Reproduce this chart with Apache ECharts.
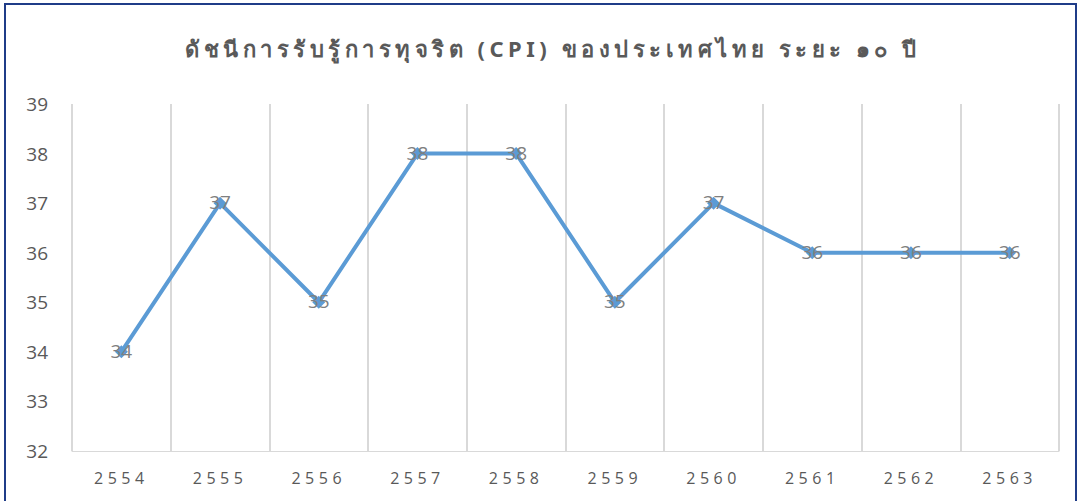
<!DOCTYPE html>
<html>
<head>
<meta charset="utf-8">
<script src="https://cdn.jsdelivr.net/npm/echarts@6/dist/echarts.min.js"></script>
<style>
  html, body { margin: 0; padding: 0; background: #fff; overflow: hidden; }
  #frame {
    position: absolute; left: 4px; top: 3px; width: 1073px; height: 520px;
    border: 2px solid #1f3c88; box-sizing: border-box;
  }
  #chart { position: absolute; left: 0; top: 0; width: 1080px; height: 501px; }
  /* spaced-out title and category labels */
  #chart text[style*="22px"] { letter-spacing: 4.5px; }
  #chart text[style*="16px"] { letter-spacing: 4.5px; }
</style>
</head>
<body>
<div id="frame"></div>
<div id="chart"></div>
<script>
// CPI score of Thailand, 10 years
const years = ['2554', '2555', '2556', '2557', '2558', '2559', '2560', '2561', '2562', '2563'];
const cpiScores = [34, 37, 35, 38, 38, 35, 37, 36, 36, 36];
const chartTitle = 'ดัชนีการรับรู้การทุจริต (CPI) ของประเทศไทย ระยะ ๑๐ ปี';

const chart = echarts.init(document.getElementById('chart'), null, { renderer: 'svg' });

chart.setOption({
  backgroundColor: 'transparent',
  animation: false,
  title: {
    text: chartTitle,
    left: 548,
    textAlign: 'center',
    top: 32,
    textStyle: {
      color: '#595959',
      fontSize: 22,
      fontWeight: 'bold',
      fontFamily: 'Noto Sans, sans-serif'
    }
  },
  grid: { left: 72, right: 21, top: 104, bottom: 50, containLabel: false },
  xAxis: {
    type: 'category',
    data: years,
    boundaryGap: true,
    axisLine: { lineStyle: { color: '#d9d9d9', width: 1 } },
    axisTick: { show: false },
    axisLabel: { color: '#595959', fontSize: 16, margin: 19, fontFamily: 'Open Sans, sans-serif' },
    splitLine: { show: true, lineStyle: { color: '#d9d9d9', width: 2 } }
  },
  yAxis: {
    type: 'value',
    min: 32,
    max: 39,
    interval: 1,
    axisLine: { show: false },
    axisTick: { show: false },
    splitLine: { show: false },
    axisLabel: { color: '#595959', fontSize: 19, margin: 24, fontFamily: 'Open Sans, sans-serif' }
  },
  series: [{
    type: 'line',
    data: cpiScores,
    symbol: 'diamond',
    symbolSize: 13,
    lineStyle: { color: '#5b9bd5', width: 4 },
    itemStyle: { color: '#5b9bd5' },
    label: {
      show: true,
      position: 'inside',
      offset: [0, -1],
      color: '#7f7f7f',
      fontSize: 19,
      fontFamily: 'Open Sans, sans-serif'
    }
  }]
});
</script>
</body>
</html>
